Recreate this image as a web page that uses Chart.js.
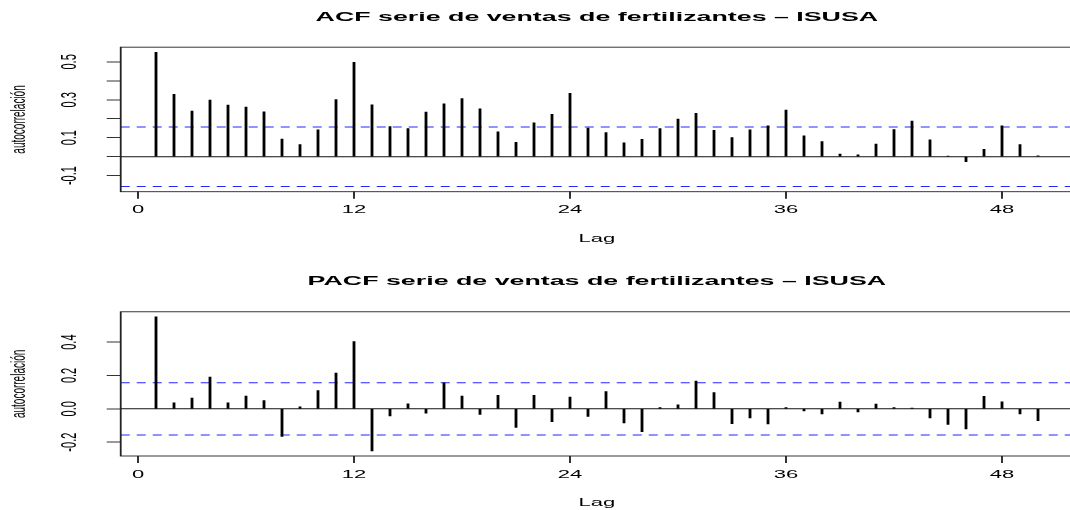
<!DOCTYPE html>
<html>
<head>
<meta charset="utf-8">
<script src="https://cdn.jsdelivr.net/npm/chart.js@4.4.1/dist/chart.umd.min.js"></script>
<style>
  html, body { margin: 0; padding: 0; background: #fff; overflow: hidden; }
  body { width: 1070px; height: 510px; position: relative; }
  canvas { position: absolute; left: 0; }
</style>
</head>
<body>
<canvas id="acfChart" width="540" height="255" style="top:0;width:1080px;height:510px"></canvas>
<canvas id="pacfChart" width="540" height="255" style="top:255px;width:1080px;height:510px"></canvas>
<script>
const lags = [1, 2, 3, 4, 5, 6, 7, 8, 9, 10, 11, 12, 13, 14, 15, 16, 17, 18, 19, 20,
              21, 22, 23, 24, 25, 26, 27, 28, 29, 30, 31, 32, 33, 34, 35, 36, 37, 38, 39, 40,
              41, 42, 43, 44, 45, 46, 47, 48, 49, 50];

const acfValues = [0.550, 0.329, 0.240, 0.298, 0.272, 0.261, 0.237, 0.092, 0.063, 0.141,
                   0.301, 0.498, 0.273, 0.158, 0.148, 0.235, 0.279, 0.306, 0.252, 0.131,
                   0.075, 0.179, 0.223, 0.334, 0.151, 0.127, 0.073, 0.091, 0.148, 0.198,
                   0.228, 0.139, 0.101, 0.141, 0.162, 0.245, 0.110, 0.080, 0.014, 0.010,
                   0.066, 0.143, 0.188, 0.089, 0.003, -0.026, 0.038, 0.162, 0.063, 0.004];

const pacfValues = [0.552, 0.036, 0.065, 0.190, 0.036, 0.077, 0.050, -0.166, 0.012, 0.109,
                    0.214, 0.404, -0.253, -0.042, 0.030, -0.026, 0.156, 0.077, -0.034, 0.081,
                    -0.111, 0.081, -0.077, 0.071, -0.046, 0.103, -0.085, -0.137, 0.008, 0.024,
                    0.166, 0.097, -0.089, -0.055, -0.091, 0.008, -0.012, -0.030, 0.040, -0.018,
                    0.028, 0.008, 0.004, -0.055, -0.093, -0.121, 0.075, 0.042, -0.030, -0.071];

const ciLimit = 0.157;

const lagTicks = [0, 12, 24, 36, 48];
const acfTicks = [-0.1, 0, 0.1, 0.2, 0.3, 0.4, 0.5];
const acfTickLabels = ['-0.1', '', '0.1', '', '0.3', '', '0.5'];
const pacfTicks = [-0.2, 0, 0.2, 0.4];
const pacfTickLabels = ['-0.2', '0.0', '0.2', '0.4'];

const lagMin = -0.96;
const lagMax = 51.944;

const FONT = 'Liberation Sans, Arial, Helvetica, sans-serif';

// the original figure is twice as wide as it is tall in its units:
// draw everything with a 2x horizontal stretch
const stretchX = {
    id: 'stretchX',
    beforeDraw(chart) {
        chart.ctx.setTransform(2, 0, 0, 1, 0, 0);
    }
};

// R style frame around the plot region
const plotBox = {
    id: 'plotBox',
    afterDraw(chart) {
        const { ctx, chartArea: a } = chart;
        ctx.save();
        ctx.strokeStyle = '#222';
        ctx.lineWidth = 0.9;
        ctx.strokeRect(a.left, a.top, a.right - a.left, a.bottom - a.top);
        ctx.restore();
    }
};

function buildPanel(canvasId, p) {
    const points = lags.map((lag, i) => ({ x: lag, y: p.values[i] }));
    const hline = y => [{ x: lagMin, y: y }, { x: lagMax, y: y }];
    const dashed = {
        type: 'line', borderColor: '#2626ff', borderWidth: 1,
        borderDash: [4.5, 3.5], pointRadius: 0, tension: 0
    };

    return new Chart(document.getElementById(canvasId), {
        type: 'bar',
        data: {
            datasets: [
                { type: 'bar', data: points, backgroundColor: '#000', borderWidth: 0, barThickness: 0.75 },
                { type: 'line', data: hline(0), borderColor: '#111', borderWidth: 1, pointRadius: 0 },
                Object.assign({ data: hline(ciLimit) }, dashed),
                Object.assign({ data: hline(-ciLimit) }, dashed)
            ]
        },
        options: {
            responsive: false,
            animation: false,
            devicePixelRatio: 2,
            layout: { padding: { left: 0, right: 3.5, top: 0, bottom: 0 } },
            plugins: {
                legend: { display: false },
                tooltip: { enabled: false },
                title: {
                    display: true,
                    text: p.title,
                    fullSize: false,
                    color: '#000',
                    font: { family: FONT, size: 13.4, weight: 'bold' },
                    padding: { top: p.titleTop, bottom: 22 }
                }
            },
            scales: {
                x: {
                    type: 'linear',
                    min: lagMin,
                    max: lagMax,
                    offset: false,
                    afterBuildTicks: s => { s.ticks = lagTicks.map(v => ({ value: v })); },
                    afterFit: s => { s.height = p.xAxisHeight; },
                    border: { display: false },
                    grid: { offset: false, drawOnChartArea: false, drawTicks: true, tickLength: 7, color: '#333' },
                    ticks: {
                        color: '#000', padding: 5, maxRotation: 0, autoSkip: false,
                        font: { family: FONT, size: 11 }
                    },
                    title: {
                        display: true, text: 'Lag', color: '#000',
                        font: { family: FONT, size: 11 },
                        padding: { top: 0, bottom: p.lagPad }
                    }
                },
                y: {
                    min: p.yMin,
                    max: p.yMax,
                    afterBuildTicks: s => { s.ticks = p.ticks.map(v => ({ value: v })); },
                    afterFit: s => { s.width = 60.36; },
                    border: { display: false },
                    grid: { drawOnChartArea: false, drawTicks: true, tickLength: 7, color: '#333' },
                    ticks: {
                        color: '#000', padding: 8.9, minRotation: 90, maxRotation: 90,
                        crossAlign: 'center', autoSkip: false,
                        font: { family: FONT, size: 11 },
                        callback: (value, index) => p.tickLabels[index]
                    },
                    title: {
                        display: true, text: 'autocorrelación', color: '#000',
                        font: { family: FONT, size: 10 },
                        padding: { top: 3.6, bottom: 0 }
                    }
                }
            }
        },
        plugins: [stretchX, plotBox]
    });
}

buildPanel('acfChart', {
    title: 'ACF serie de ventas de fertilizantes \u2013 ISUSA',
    values: acfValues,
    ticks: acfTicks,
    tickLabels: acfTickLabels,
    yMin: -0.185,
    yMax: 0.5775,
    titleTop: 9.1,
    xAxisHeight: 63.3,
    lagPad: 9.4
});

buildPanel('pacfChart', {
    title: 'PACF serie de ventas de fertilizantes \u2013 ISUSA',
    values: pacfValues,
    ticks: pacfTicks,
    tickLabels: pacfTickLabels,
    yMin: -0.283,
    yMax: 0.582,
    titleTop: 18.7,
    xAxisHeight: 54,
    lagPad: 0.1
});
</script>
</body>
</html>
